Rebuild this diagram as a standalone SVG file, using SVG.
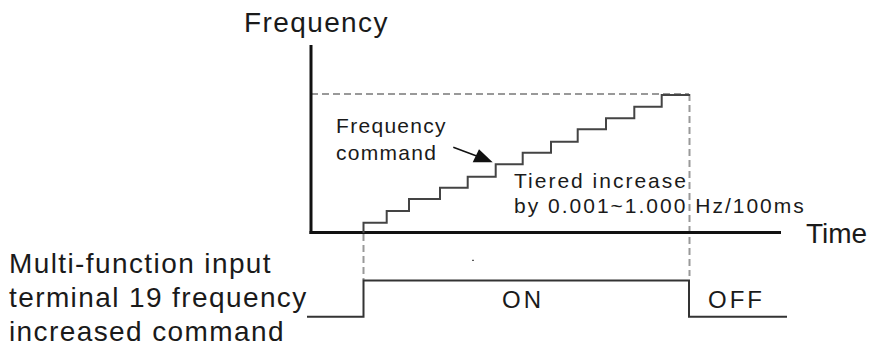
<svg xmlns="http://www.w3.org/2000/svg" width="873" height="352" viewBox="0 0 873 352">
<style>
.big{font-family:"Liberation Sans",Arial,sans-serif;font-size:28px;fill:#1a1a1a;letter-spacing:1.4px}
.mid{font-family:"Liberation Sans",Arial,sans-serif;font-size:21px;fill:#1a1a1a;letter-spacing:2px}
.lab{font-family:"Liberation Sans",Arial,sans-serif;font-size:21px;fill:#1a1a1a;letter-spacing:1.3px}
.st{font-family:"Liberation Sans",Arial,sans-serif;font-size:24px;fill:#1a1a1a;letter-spacing:3px}
.axis{stroke:#111;stroke-width:3;fill:none}
.dash{stroke:#999;stroke-width:2;stroke-dasharray:7 4;fill:none}
.sig{stroke:#333;stroke-width:2;fill:none}
.stair{stroke:#444;stroke-width:2;fill:none}
</style>
<rect width="873" height="352" fill="#fff"/>
<g id="connectors">
<line class="dash" x1="311" y1="94" x2="689" y2="94"/>
<line class="dash" x1="689.5" y1="94" x2="689.5" y2="276"/>
<line class="dash" x1="363.5" y1="234" x2="363.5" y2="280"/>
<line class="axis" x1="311" y1="45" x2="311" y2="234"/>
<line class="axis" x1="309.5" y1="232.5" x2="781" y2="232.5"/>
<path class="stair" d="M363.5 233 V222.7 H386.7 V211 H409 V199 H440 V187.7 H467.7 V176.7 H495.7 V164.3 H522.7 V152.7 H551 V141.7 H577.7 V129.3 H606 V118.3 H634.3 V106.7 H661.7 V95 H690"/>
<path class="sig" d="M307 316.7 H363.5 V280.5 H689 V316.7 H787"/>
<line x1="453.3" y1="147.3" x2="478" y2="156.5" stroke="#111" stroke-width="1.5"/>
<polygon points="472.7,162.3 479,149.3 492.7,162.3" fill="#111"/>
<line x1="472" y1="260.3" x2="474" y2="260.3" stroke="#333" stroke-width="1"/>
</g>
<g id="freq-axis-label"><text class="big" x="244" y="32">Frequency</text></g>
<g id="time-label"><text class="big" x="806" y="243" style="letter-spacing:0">Time</text></g>
<g id="freq-command-label">
<text class="lab" x="336" y="132.5">Frequency</text>
<text class="lab" x="336" y="160">command</text>
</g>
<g id="tier-label">
<text class="mid" x="514" y="188.3">Tiered increase</text>
<text class="mid" x="514" y="212.7">by 0.001~1.000 Hz/100ms</text>
</g>
<g id="input-label">
<text class="big" x="9" y="273.3">Multi-function input</text>
<text class="big" x="9" y="306.7">terminal 19 frequency</text>
<text class="big" x="9" y="341">increased command</text>
</g>
<g id="on-label"><text class="st" x="502" y="308">ON</text></g>
<g id="off-label"><text class="st" x="708" y="307.5">OFF</text></g>
</svg>
